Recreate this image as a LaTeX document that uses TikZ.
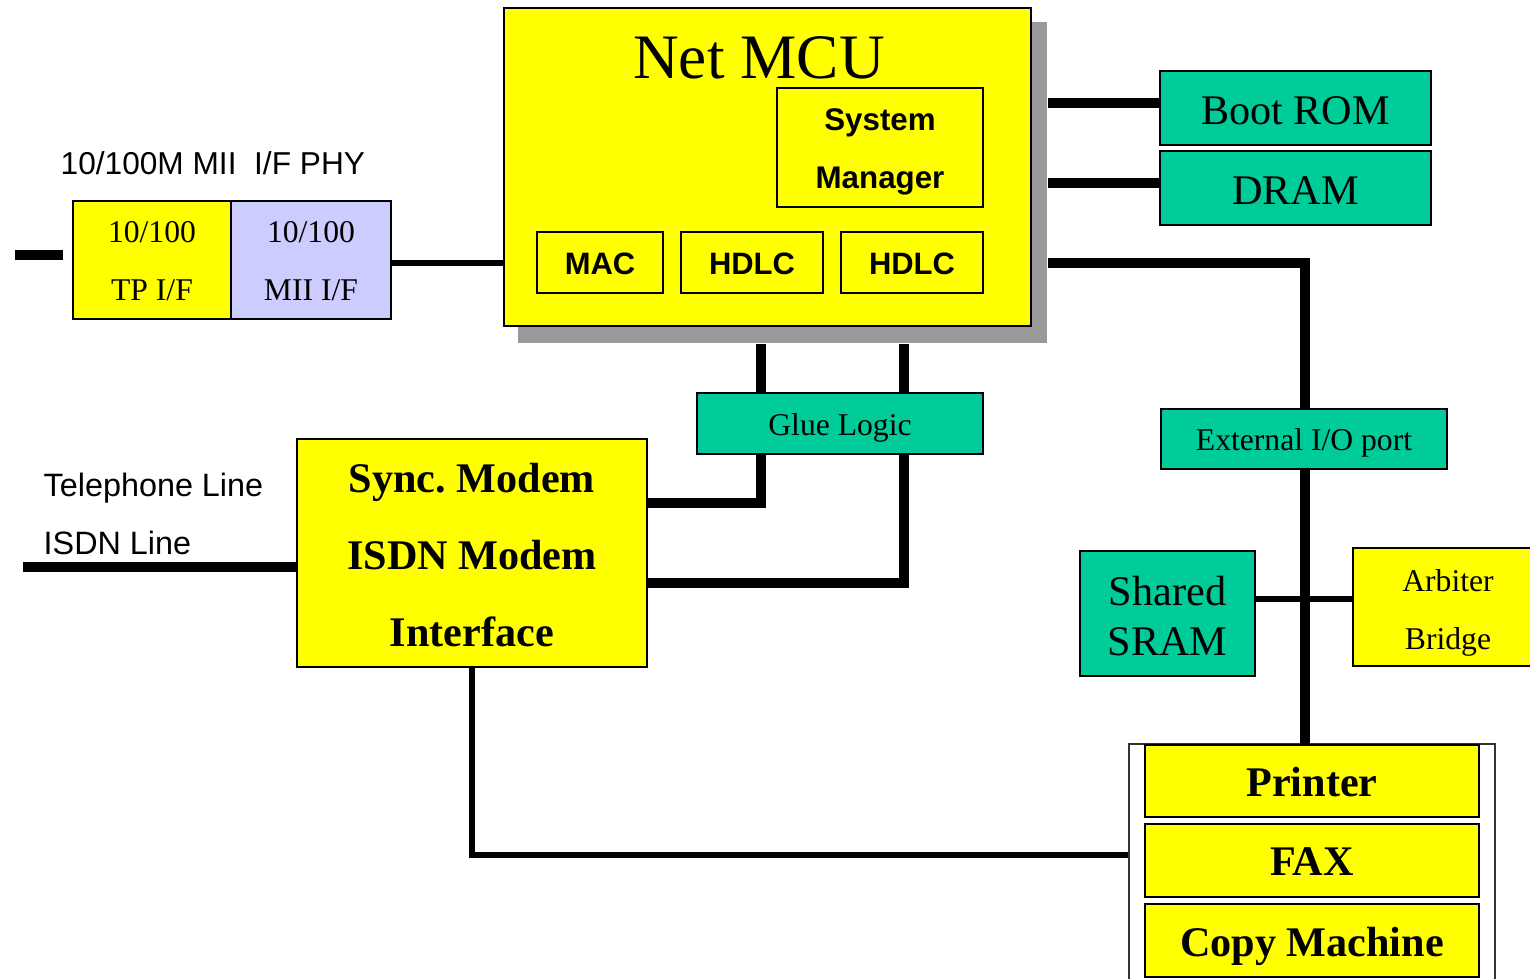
\documentclass[tikz,border=0pt]{standalone}
\usepackage{fontspec}
\setmainfont{Liberation Serif}
\setsansfont{Liberation Sans}
\frenchspacing
\definecolor{chipyellow}{HTML}{FFFF00}
\definecolor{memgreen}{HTML}{00CC99}
\definecolor{phyblue}{HTML}{CCCCFF}
\definecolor{shadowgray}{HTML}{999999}

% font size / baseline skip
\newcommand\fs[2]{\fontsize{#1}{#2}\selectfont}
% block from corner (x1,y1) to (x2,y2) with its caption:
% name, x1, y1, x2, y2, box style, font, caption drop (px), caption
\newcommand\blk[9]{%
  \node[#6, minimum width={(#4-#2)*0.01cm}, minimum height={(#5-#3)*0.01cm}]
    (#1) at ({(#2+#4)/2},{(#3+#5)/2}) {};
  \node[font=#7, align=center, inner sep=0pt]
    (#1-text) at ([yshift={-#8*0.01cm}]#1.center) {#9};}

\tikzset{
  box/.style={draw=black, line width=0.6pt, inner sep=0pt},
  chip/.style={box, fill=chipyellow},
  mem/.style={box, fill=memgreen},
  phy/.style={box, fill=phyblue},
  bus/.style={line width=2.85pt},
  link/.style={line width=1.6pt},
  thinframe/.style={draw=black!80, line width=0.45pt, inner sep=0pt},
  lbl/.style={font=\sffamily\fs{9.2}{11}, inner sep=0pt},
}

\begin{document}
\begin{tikzpicture}[x=0.01cm, y=-0.01cm]
\clip (0,0) rectangle (1530,979);

% ---------------- Net MCU ----------------
\node[fill=shadowgray, inner sep=0pt, minimum width=5.29cm, minimum height=3.21cm]
  (mcushadow) at (782.5,182.5) {};
\node[chip, minimum width=5.27cm, minimum height=3.18cm] (mcu) at (767.5,167) {};
\node[font=\fs{18}{22}, inner sep=0pt] (mcutitle) at (759,58) {Net MCU};
\blk{sysmgr}{777}{88}{983}{207}{chip}{\sffamily\bfseries\fs{8.9}{16.5}}{4.5}{System\\Manager}
\blk{mac}{537}{232}{663}{293}{chip}{\sffamily\bfseries\fs{8.8}{10}}{1}{MAC}
\blk{hdlca}{681}{232}{823}{293}{chip}{\sffamily\bfseries\fs{8.8}{10}}{1}{HDLC}
\blk{hdlcb}{841}{232}{983}{293}{chip}{\sffamily\bfseries\fs{8.8}{10}}{1}{HDLC}

% ---------------- PHY ----------------
\node[font=\sffamily\fs{9}{11}, inner sep=0pt, anchor=base west] (phylabel) at (60,175)
  {10/100M MII\ \ I/F PHY};
\blk{tp}{73}{201}{231}{319}{chip}{\fs{9}{16.5}}{1}{10/100\\TP I/F}
\blk{mii}{231}{201}{391}{319}{phy}{\fs{9}{16.5}}{1}{10/100\\MII I/F}
\coordinate (stubA) at (15,255);
\coordinate (stubB) at (63,255);
\draw[bus] (stubA) -- (stubB);
\draw[link] ([yshift=-0.03cm]mii.east) -- ([yshift=-0.03cm]mii.east -| mcu.west);

% ---------------- memories ----------------
\blk{boot}{1160}{71}{1431}{145}{mem}{\fs{12}{14}}{3}{Boot ROM}
\blk{dram}{1160}{151}{1431}{225}{mem}{\fs{12}{14}}{3}{DRAM}
\draw[bus] ([yshift=0.05cm]boot.west) -- ([yshift=0.05cm]boot.west -| mcushadow.east);
\draw[bus] ([yshift=0.05cm]dram.west) -- ([yshift=0.05cm]dram.west -| mcushadow.east);

% ---------------- external bus ----------------
\blk{ext}{1161}{409}{1447}{469}{mem}{\fs{9}{11}}{4}{External I/O port}
\blk{sram}{1080}{551}{1255}{676}{mem}{\fs{12}{14.2}}{2.5}{Shared\\SRAM}
\blk{arb}{1353}{548}{1543}{666}{chip}{\fs{9}{16.5}}{6}{Arbiter\\Bridge}
\draw[link] ([yshift=0.08cm]arb.west) -- ([yshift=0.08cm]arb.west -| sram.east);

\node[thinframe, minimum width=3.66cm, minimum height=2.66cm] (devframe) at (1312,877) {};
\blk{printer}{1145}{745}{1479}{817}{chip}{\bfseries\fs{12}{14}}{1.5}{Printer}
\blk{fax}{1145}{824}{1479}{897}{chip}{\bfseries\fs{12}{14}}{1}{FAX}
\blk{copier}{1145}{904}{1479}{977}{chip}{\bfseries\fs{12}{14}}{6}{Copy Machine}

\coordinate (busTop) at (1305,263);
\draw[bus] (mcushadow.east |- busTop) -- (busTop) -- (busTop |- ext.north);
\draw[bus] (busTop |- ext.south) -- (busTop |- printer.north);

% ---------------- modem side ----------------
\blk{glue}{697}{393}{983}{454}{mem}{\fs{9}{11}}{4}{Glue Logic}
\blk{sync}{297}{439}{647}{667}{chip}{\bfseries\fs{12}{21.9}}{2}{Sync. Modem\\ISDN Modem\\Interface}
\node[lbl, anchor=base west] (tel) at (43,496) {Telephone Line};
\node[lbl, anchor=base west] (isdn) at (43,554) {ISDN Line};

\coordinate (isdnEnd) at (23,567);
\draw[bus] (isdnEnd) -- (isdnEnd -| sync.west);

\coordinate (ga) at (761,0);
\coordinate (gb) at (904,0);
\coordinate (sa) at (0,503);
\coordinate (sb) at (0,583);
\draw[bus] (mcushadow.south -| ga) -- (glue.north -| ga);
\draw[bus] (mcushadow.south -| gb) -- (glue.north -| gb);
\draw[bus] (glue.south -| ga) |- (sync.east |- sa);
\draw[bus] (glue.south -| gb) |- (sync.east |- sb);

\coordinate (fy) at (0,855);
\draw[link] (sync.south) |- (devframe.west |- fy);
\end{tikzpicture}
\end{document}
